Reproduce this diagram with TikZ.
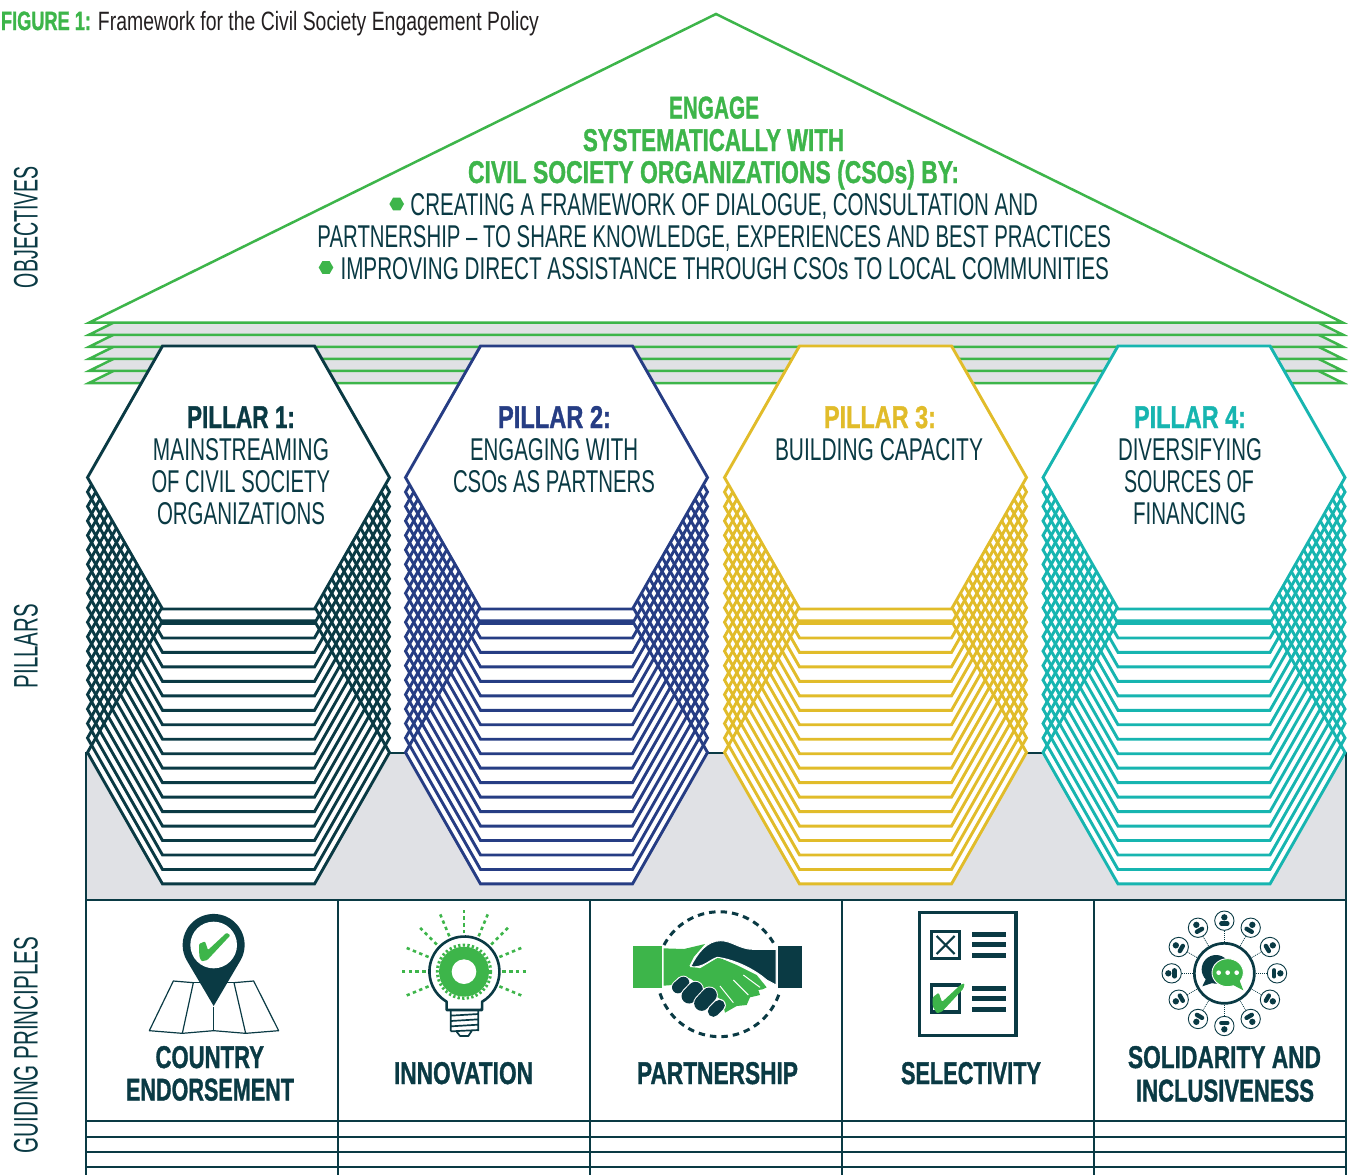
\documentclass[tikz,border=0pt]{standalone}
\usepackage{graphicx}
\usepackage{fontspec}
\setmainfont{Liberation Sans}
\newfontfamily\hv[UprightFont=* Bold,FakeBold=1.3]{Liberation Sans}
\definecolor{teal}{HTML}{0A3A44}
\definecolor{navy}{HTML}{263D84}
\definecolor{gold}{HTML}{E1BC2A}
\definecolor{turq}{HTML}{17B5B0}
\definecolor{leaf}{HTML}{3DB54A}
\definecolor{paper}{HTML}{E0E1E5}
\definecolor{inkk}{HTML}{231F20}
\newcommand\rg{\fontsize{31.5pt}{32pt}\selectfont}
\newcommand\bd{\fontsize{31.5pt}{32pt}\selectfont\hv}
\newcommand\lab[7]{\pgfmathsetlengthmacro\labw{#4-#3}\node (#1) [txt,text=#6] at ({(#3+#4)/2},#5) {\resizebox{\labw}{\height}{#2#7}};}
\newcommand\side[4]{\pgfmathsetlengthmacro\labw{#3-#2}\node (#1) [txt,text=teal,rotate=90] at (37.5,{(#2+#3)/2}) {\resizebox{\labw}{\height}{\fontsize{34pt}{34pt}\selectfont #4}};}
\newcommand\hexpath[2]{({#1-76},{346+#2}) -- ({#1+76},{346+#2}) -- ({#1+151},{477.5+#2}) -- ({#1+76},{609+#2}) -- ({#1-76},{609+#2}) -- ({#1-151},{477.5+#2}) -- cycle}
\newcommand\pillar[2]{%
  \fill[white] ({#1-76},346) -- ({#1+76},346) -- ({#1+151},477.5) -- ({#1+151},752.5) -- ({#1+76},884) -- ({#1-76},884) -- ({#1-151},752.5) -- ({#1-151},477.5) -- cycle;
  \foreach \k in {19,...,1}{\pgfmathsetmacro\dd{\k*14.47}\draw[hexline,draw=#2] \hexpath{#1}{\dd};}
  \draw[hexline,draw=#2,fill=white] \hexpath{#1}{0};
}
\newcommand\bullethex[2]{\fill[leaf] ({#1-7.3},#2) -- ({#1-3.6},{#2-6.4}) -- ({#1+3.6},{#2-6.4}) -- ({#1+7.3},#2) -- ({#1+3.6},{#2+6.4}) -- ({#1-3.6},{#2+6.4}) -- cycle;}
\tikzset{
  txt/.style={anchor=base,inner sep=0pt,outer sep=0pt},
  hexline/.style={line width=2.9pt,line join=miter},
  roofline/.style={draw=leaf,line width=2.5pt,line join=miter},
  grid/.style={draw=teal,line width=2.5pt},
  thinmap/.style={draw=teal,line width=1.2pt,line join=round},
  zoomed/.style={x=0.33333pt,y=-0.33333pt},
}
\begin{document}
\begin{tikzpicture}[x=1pt,y=-1pt]
\useasboundingbox (0,0) rectangle (1348,1175);
% roof
\foreach \k in {5,...,1}{\pgfmathsetmacro\dd{\k*12.06}
  \draw[roofline,fill=paper] (716,{14+\dd}) -- (1343,{322.7+\dd}) -- (89,{322.7+\dd}) -- cycle;}
\draw[roofline,fill=white] (716,14) -- (1343,322.7) -- (89,322.7) -- cycle;
% grey band
\draw[fill=paper,draw=teal,line width=2pt] (86,753) rectangle (1346,900);
% pillars
\pillar{238.5}{teal}
\pillar{556.5}{navy}
\pillar{875.5}{gold}
\pillar{1194}{turq}
% table
\foreach \yy in {900,1121,1137,1152,1167}{\draw[draw=teal,line width=2pt] (86,\yy) -- (1347,\yy);}
\foreach \xx in {86,338,590,842,1094,1346}{\draw[grid] (\xx,900) -- (\xx,1175);}
% title
\lab{tfig}{\fontsize{26.5pt}{27pt}\selectfont\hv}{1}{91}{30}{leaf}{FIGURE 1:}
\lab{ttitle}{\fontsize{26.5pt}{27pt}\selectfont}{98}{539}{30}{inkk}{Framework for the Civil Society Engagement Policy}
% side labels
\side{sobj}{166}{288}{OBJECTIVES}
\side{spil}{604}{688}{PILLARS}
\side{sgui}{937}{1153}{GUIDING PRINCIPLES}
% roof text
\lab{r1}{\bd}{669}{759}{118.5}{leaf}{ENGAGE}
\lab{r2}{\bd}{583}{844}{151}{leaf}{SYSTEMATICALLY WITH}
\lab{r3}{\bd}{468}{959}{183}{leaf}{CIVIL SOCIETY ORGANIZATIONS (CSOs) BY:}
\bullethex{396.7}{204}
\lab{r4}{\rg}{410.5}{1038}{215}{teal}{CREATING A FRAMEWORK OF DIALOGUE, CONSULTATION AND}
\lab{r5}{\rg}{317.5}{1111}{247}{teal}{PARTNERSHIP – TO SHARE KNOWLEDGE, EXPERIENCES AND BEST PRACTICES}
\bullethex{326}{267.5}
\lab{r6}{\rg}{340.5}{1109}{279}{teal}{IMPROVING DIRECT ASSISTANCE THROUGH CSOs TO LOCAL COMMUNITIES}
% pillar text
\lab{p1a}{\bd}{187}{295}{428}{teal}{PILLAR 1:}
\lab{p1b}{\rg}{153}{329}{460}{teal}{MAINSTREAMING}
\lab{p1c}{\rg}{151.5}{330}{492}{teal}{OF CIVIL SOCIETY}
\lab{p1d}{\rg}{157}{325}{524}{teal}{ORGANIZATIONS}
\lab{p2a}{\bd}{498}{611}{428}{navy}{PILLAR 2:}
\lab{p2b}{\rg}{470}{638}{460}{teal}{ENGAGING WITH}
\lab{p2c}{\rg}{453}{655}{492}{teal}{CSOs AS PARTNERS}
\lab{p3a}{\bd}{824}{936}{428}{gold}{PILLAR 3:}
\lab{p3b}{\rg}{775}{983}{460}{teal}{BUILDING CAPACITY}
\lab{p4a}{\bd}{1134}{1246}{428}{turq}{PILLAR 4:}
\lab{p4b}{\rg}{1118}{1262}{460}{teal}{DIVERSIFYING}
\lab{p4c}{\rg}{1124}{1254}{492}{teal}{SOURCES OF}
\lab{p4d}{\rg}{1133}{1246}{524}{teal}{FINANCING}
% principle labels
\lab{g1a}{\bd}{155.5}{264}{1068}{teal}{COUNTRY}
\lab{g1b}{\bd}{126}{294}{1100.5}{teal}{ENDORSEMENT}
\lab{g2}{\bd}{394}{533}{1084}{teal}{INNOVATION}
\lab{g3}{\bd}{637}{798}{1084}{teal}{PARTNERSHIP}
\lab{g4}{\bd}{901}{1041}{1084}{teal}{SELECTIVITY}
\lab{g5a}{\bd}{1128}{1321}{1068}{teal}{SOLIDARITY AND}
\lab{g5b}{\bd}{1136}{1314}{1101.5}{teal}{INCLUSIVENESS}
% icon 1 and 2: map pin, bulb
\begin{scope}[shift={(90,900)},zoomed]
  \draw[thinmap] (178,392) -- (250,243) -- (310,248) -- (277,400) -- cycle;
  \draw[thinmap] (310,248) -- (432,248);
  \draw[thinmap] (277,400) -- (371,392) -- (467,400) -- (566,392) -- (491,243) -- (432,248) -- (467,400);
  \draw[thinmap] (371,320) -- (371,392);
  \fill[teal] (371,318) -- (451,182) arc[start angle=30.5,end angle=-210.5,radius=93] -- cycle;
  \fill[white] (371,135) circle[radius=70];
  \fill[leaf,rounded corners=1pt] (327,132) -- (345,124) -- (354,150) -- (410,98) -- (421,106) -- (352,180) -- (335,184) -- (328,170) -- cycle;
  % bulb
  \draw[teal,line width=2.6pt,line join=round] (1070,305) arc[start angle=120.5,end angle=419.5,radius=105] -- (1176,330) -- (1070,330) -- cycle;
  \fill[leaf] (1122,215) circle[radius=75];
  \draw[leaf,line width=3pt,dash pattern=on 2.3pt off 2.3pt] (1122,215) circle[radius=80];
  \fill[white] (1122,215) circle[radius=37];
  \draw[teal,line width=1.7pt,line join=round] (1082,332) -- (1082,393) (1165,332) -- (1165,393)
    (1082,347) -- (1165,342) (1082,363) -- (1165,358) (1082,379) -- (1165,374) (1082,394) -- (1165,390)
    (1100,395) -- (1110,408) -- (1135,408) -- (1145,393);
  \foreach \aa in {0,22.5,45,67.5,90,112.5,135,157.5,180,202.5,-22.5}{
    \draw[leaf,line width=2.6pt,dash pattern=on 3.4pt off 3.4pt] ({1122+115*cos(\aa)},{215-115*sin(\aa)}) -- ({1122+186*cos(\aa)},{215-186*sin(\aa)});}
\end{scope}
% icon 3 and 4: handshake, checklist
\begin{scope}[shift={(590,900)},zoomed]
  \draw[teal,line width=3pt,dash pattern=on 6.5pt off 5pt] (222,135) arc[start angle=208,end angle=332,radius=188];
  \draw[teal,line width=3pt,dash pattern=on 6.5pt off 5pt] (210,280) arc[start angle=162,end angle=18,radius=188];
  \fill[leaf] (129,138) rectangle (217,264);
  \fill[teal] (565,138) rectangle (636,264);
  \fill[leaf] (221,145) -- (282,147) -- (345,132) -- (312,170) -- (298,198) -- (330,205) -- (385,172) -- (440,195) -- (500,225) -- (530,262) -- (518,268) -- (505,270) -- (510,285) -- (480,292) -- (470,315) -- (440,318) -- (405,338) -- (395,300) -- (350,270) -- (300,235) -- (265,232) -- (248,255) -- (221,257) -- cycle;
  \draw[white,fill=teal,line width=1pt] (302,200) .. controls (322,160) and (350,122) .. (392,122) .. controls (425,122) and (450,148) .. (490,148) -- (558,148) -- (558,255) -- (530,240) .. controls (490,205) and (430,178) .. (382,172) .. controls (360,178) and (340,205) .. (302,200) -- cycle;
  \draw[white,line width=1pt] (460,225) -- (510,262) (430,240) -- (475,285) (390,258) -- (430,308);
  \foreach \xa/\ya/\xb/\yb/\wd in {264/262/280/248/12,297/288/316/268/15,335/310/358/285/15,370/334/388/316/11}{
    \draw[white,line width=\wd pt+2pt,line cap=round] (\xa,\ya) -- (\xb,\yb);
    \draw[teal,line width=\wd pt,line cap=round] (\xa,\ya) -- (\xb,\yb);}
  % checklist
  \draw[teal,line width=3.6pt,line join=miter] (989,37) rectangle (1278,406);
  \draw[teal,line width=3.2pt] (1025,94) rectangle (1108,176);
  \draw[teal,line width=3.2pt] (1025,255) rectangle (1108,336);
  \draw[teal,line width=2.2pt] (1040,108) -- (1094,162) (1094,108) -- (1040,162);
  \foreach \yy in {103,133,166,265,295,328}{\fill[teal] (1146,\yy-7) rectangle (1248,\yy+8);}
  \fill[leaf,rounded corners=1.2pt] (1028,292) -- (1046,278) -- (1056,306) -- (1112,254) -- (1124,250) -- (1120,266) -- (1056,335) -- (1040,340) -- (1028,318) -- cycle;
\end{scope}
% icon 5: network
\begin{scope}[shift={(1090,900)},zoomed]
  \draw[teal,line width=2.7pt] (403,220) circle[radius=90];
  \foreach \aa in {0,30,...,330}{
    \pgfmathsetmacro\cx{403+158*cos(\aa)}
    \pgfmathsetmacro\cy{220-158*sin(\aa)}
    \pgfmathsetmacro\ux{cos(\aa)}
    \pgfmathsetmacro\uy{-sin(\aa)}
    \draw[teal,line width=0.7pt,dash pattern=on 1pt off 1pt] ({403+95*\ux},{220+95*\uy}) -- ({403+128*\ux},{220+128*\uy});
    \draw[teal,line width=0.9pt] (\cx,\cy) circle[radius=29];
    \fill[teal] ({\cx+10*\ux},{\cy+10*\uy}) circle[radius=9.5];
    \draw[teal,line width=4.4pt,line cap=round] ({\cx-9*\ux-9*\uy},{\cy-9*\uy+9*\ux}) -- ({\cx-9*\ux+9*\uy},{\cy-9*\uy-9*\ux});
  }
  \fill[teal] (378,208) circle[radius=43];
  \fill[teal] (350,232) -- (337,259) -- (376,246) -- cycle;
  \draw[white,fill=leaf,line width=0.9pt] (413,218) circle[x radius=47,y radius=42];
  \fill[leaf] (420,250) -- (460,271) -- (448,240) -- cycle;
  \foreach \xx in {386,413,440}{\fill[white] (\xx,218) circle[radius=7];}
\end{scope}
\end{tikzpicture}
\end{document}
